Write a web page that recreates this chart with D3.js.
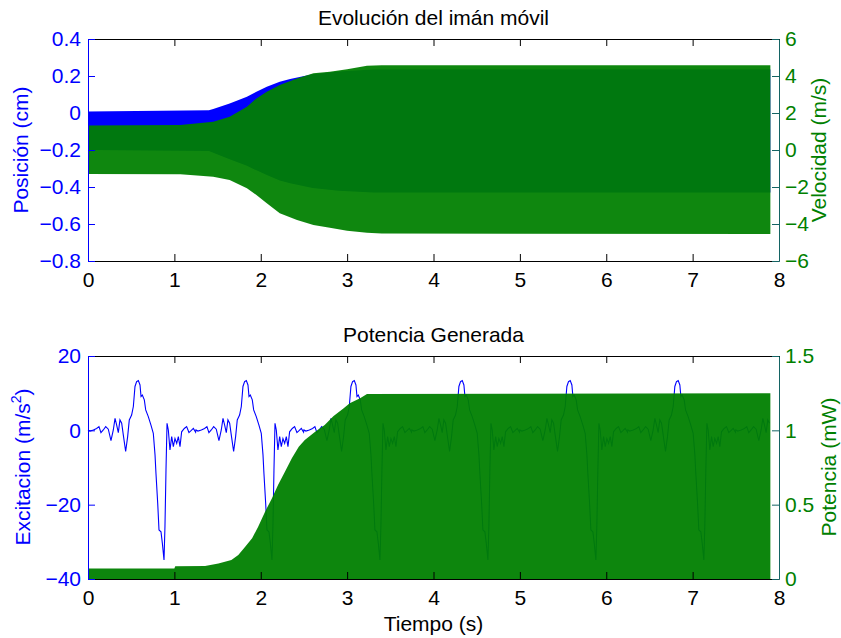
<!DOCTYPE html>
<html>
<head>
<meta charset="utf-8">
<script src="https://cdn.jsdelivr.net/npm/d3@7"></script>
<style>
  html, body { margin: 0; padding: 0; background: #fff; }
  svg text { font-family: "Liberation Sans", Arial, Helvetica, sans-serif; }
</style>
</head>
<body>
<svg id="chart" width="841" height="638"></svg>
<script>
// ---------------- DATA ----------------
const xTicks = [0, 1, 2, 3, 4, 5, 6, 7, 8];
const posTicks = [0.4, 0.2, 0, -0.2, -0.4, -0.6, -0.8];
const velTicks = [6, 4, 2, 0, -2, -4, -6];
const excTicks = [20, 0, -20, -40];
const powTicks = [1.5, 1, 0.5, 0];

// Top panel: envelope of the dense oscillation of position (cm)
const posT     = [0, 1.40, 1.45, 1.64, 1.84, 1.95, 2.07, 2.22, 2.34, 2.60, 2.90, 3.30, 7.90];
const posUpper = [0.008, 0.015, 0.022, 0.052, 0.088, 0.115, 0.142, 0.169, 0.184, 0.210, 0.225, 0.235, 0.235];
const posLower = [-0.200, -0.205, -0.215, -0.250, -0.285, -0.310, -0.335, -0.365, -0.380, -0.405, -0.420, -0.430, -0.430];

// Top panel: envelope of the dense oscillation of velocity (m/s)
const velT     = [0, 1.07, 1.45, 1.64, 1.84, 1.95, 2.07, 2.22, 2.42, 2.61, 2.80, 3.00, 3.23, 3.40, 7.90];
const velUpper = [1.33, 1.35, 1.53, 1.80, 2.34, 2.79, 3.15, 3.51, 3.87, 4.15, 4.23, 4.36, 4.55, 4.58, 4.58];
const velLower = [-1.30, -1.31, -1.44, -1.62, -2.07, -2.43, -2.88, -3.42, -3.78, -4.05, -4.20, -4.36, -4.47, -4.52, -4.54];

// Bottom panel: excitation (m/s^2), one measured cycle and the cycle start times
const excT = [0, 0.023, 0.062, 0.100, 0.127, 0.150, 0.177, 0.205, 0.235, 0.266, 0.293, 0.313, 0.332, 0.351,
              0.370, 0.390, 0.409, 0.436, 0.459, 0.478, 0.505, 0.525, 0.544, 0.563, 0.583, 0.602, 0.614, 0.629,
              0.652, 0.668, 0.698, 0.729, 0.756, 0.776, 0.787, 0.807, 0.822, 0.845, 0.861, 0.880, 0.891, 0.903,
              0.915, 0.930, 0.949, 0.969, 0.988, 1.007, 1.027, 1.046, 1.065, 1.084, 1.115, 1.142, 1.169, 1.193,
              1.220, 1.246];
const excV = [0.1, -0.2, 0.1, 0.5, 1.0, -0.6, 0.1, 1.0, 0.3, -2.8, 0.1, 3.2, 1.4, -0.6,
              2.8, 1.9, -1.3, -5.7, -1.7, 2.8, 4.1, 6.4, 11.8, 13.1, 13.4, 12.2, 9.1, 9.5,
              8.2, 5.5, 3.7, 1.4, -0.8, -6.6, -11.6, -19.6, -26.8, -27.3, -30.4, -34.9, -25.9, -10.7,
              1.9, 0.1, -5.3, -1.7, -4.4, -2.2, -3.5, -1.7, -4.4, -0.4, 0.5, 1.0, -0.6, -0.1,
              0.5, -0.5];
const cycleStarts = [0, 1.25, 2.5, 3.75, 5.0, 6.25, 7.5];
const tEnd = 7.90;

// Bottom panel: envelope of the dense oscillation of power (mW)
const powT     = [0, 1.00, 1.01, 1.355, 1.51, 1.66, 1.74, 1.82, 1.90, 1.97, 2.05, 2.13, 2.20, 2.28, 2.36,
                  2.44, 2.51, 2.63, 2.74, 2.84, 2.96, 3.03, 3.15, 3.23, 7.90];
const powUpper = [0.070, 0.070, 0.085, 0.087, 0.105, 0.128, 0.161, 0.217, 0.274, 0.352, 0.453, 0.543, 0.632, 0.722, 0.812,
                  0.890, 0.935, 0.991, 1.036, 1.095, 1.148, 1.182, 1.215, 1.245, 1.250];

// ---------------- LAYOUT ----------------
const L = 88, R = 779;
const top1 = 39, bot1 = 261;
const top2 = 356, bot2 = 579;
const BLUE = "#0000ff", GREEN = "#008000", TEAL = "#146464";
const FS = 21;

const svg = d3.select("#chart");

const x = d3.scaleLinear().domain([0, 8]).range([L, R]);
const yPos = d3.scaleLinear().domain([-0.8, 0.4]).range([bot1, top1]);
const yVel = d3.scaleLinear().domain([-6, 6]).range([bot1, top1]);
const yExc = d3.scaleLinear().domain([-40, 20]).range([bot2, top2]);
const yPow = d3.scaleLinear().domain([0, 1.5]).range([bot2, top2]);

const fmt = d => d3.format("~g")(d);

// ---------------- TOP PANEL DATA ----------------
const posData = posT.map((t, i) => ({ t, hi: posUpper[i], lo: posLower[i] }));
const velData = velT.map((t, i) => ({ t, hi: velUpper[i], lo: velLower[i] }));

svg.append("path")
  .datum(posData)
  .attr("fill", BLUE)
  .attr("d", d3.area().x(d => x(d.t)).y0(d => yPos(d.lo)).y1(d => yPos(d.hi)));

svg.append("path")
  .datum(velData)
  .attr("fill", GREEN)
  .attr("fill-opacity", 0.94)
  .attr("d", d3.area().x(d => x(d.t)).y0(d => yVel(d.lo)).y1(d => yVel(d.hi)));

// ---------------- BOTTOM PANEL DATA ----------------
const excData = [];
cycleStarts.forEach(s => {
  excT.forEach((t, i) => {
    if (s + t <= tEnd) excData.push({ t: s + t, v: excV[i] });
  });
});

svg.append("path")
  .datum(excData)
  .attr("fill", "none")
  .attr("stroke", BLUE)
  .attr("stroke-width", 1.1)
  .attr("d", d3.line().x(d => x(d.t)).y(d => yExc(d.v)));

const powData = powT.map((t, i) => ({ t, hi: powUpper[i] }));
svg.append("path")
  .datum(powData)
  .attr("fill", GREEN)
  .attr("fill-opacity", 0.95)
  .attr("d", d3.area().x(d => x(d.t)).y0(() => yPow(0)).y1(d => yPow(d.hi)));

// ---------------- AXES ----------------
function panelAxes(top, bot, yl, yr, lTicks, rTicks) {
  const gb = svg.append("g").attr("transform", `translate(0,${bot})`)
    .call(d3.axisBottom(x).tickValues(xTicks).tickFormat(fmt).tickSizeInner(-7).tickSizeOuter(0).tickPadding(11));
  gb.select(".domain").attr("stroke", "#000");
  gb.selectAll(".tick line").attr("stroke", "#000");
  gb.selectAll(".tick text").attr("fill", "#000").attr("font-size", FS);
  const gt = svg.append("g").attr("transform", `translate(0,${top})`)
    .call(d3.axisTop(x).tickValues(xTicks).tickFormat("").tickSizeInner(-7).tickSizeOuter(0));
  gt.select(".domain").attr("stroke", "#000");
  gt.selectAll(".tick line").attr("stroke", "#000");
  const gl = svg.append("g").attr("transform", `translate(${L},0)`)
    .call(d3.axisLeft(yl).tickValues(lTicks).tickFormat(fmt).tickSizeInner(-7).tickSizeOuter(0).tickPadding(7));
  gl.select(".domain").attr("stroke", BLUE);
  gl.selectAll(".tick line").attr("stroke", BLUE);
  gl.selectAll(".tick text").attr("fill", BLUE).attr("font-size", FS);
  const gr = svg.append("g").attr("transform", `translate(${R},0)`)
    .call(d3.axisRight(yr).tickValues(rTicks).tickFormat(fmt).tickSizeInner(-7).tickSizeOuter(0).tickPadding(6));
  gr.select(".domain").attr("stroke", TEAL);
  gr.selectAll(".tick line").attr("stroke", TEAL);
  gr.selectAll(".tick text").attr("fill", GREEN).attr("font-size", FS);
}
panelAxes(top1, bot1, yPos, yVel, posTicks, velTicks);
panelAxes(top2, bot2, yExc, yPow, excTicks, powTicks);

// ---------------- TEXT ----------------
const cx = (L + R) / 2;
svg.append("text").attr("x", cx).attr("y", 25).attr("text-anchor", "middle")
  .attr("font-size", FS).attr("fill", "#000").text("Evolución del imán móvil");
svg.append("text").attr("x", cx).attr("y", 342).attr("text-anchor", "middle")
  .attr("font-size", FS).attr("fill", "#000").text("Potencia Generada");
svg.append("text").attr("x", cx).attr("y", 631).attr("text-anchor", "middle")
  .attr("font-size", FS).attr("fill", "#000").text("Tiempo (s)");

svg.append("text").attr("transform", `translate(28,150) rotate(-90)`).attr("text-anchor", "middle")
  .attr("font-size", FS).attr("fill", BLUE).text("Posición (cm)");
svg.append("text").attr("transform", `translate(826,150) rotate(-90)`).attr("text-anchor", "middle")
  .attr("font-size", FS).attr("fill", GREEN).text("Velocidad (m/s)");

const ex = svg.append("text").attr("transform", `translate(30,467) rotate(-90)`).attr("text-anchor", "middle")
  .attr("font-size", FS).attr("fill", BLUE);
ex.append("tspan").text("Excitacion (m/s");
ex.append("tspan").attr("font-size", 14).attr("dy", -9).text("2");
ex.append("tspan").attr("dy", 9).text(")");

svg.append("text").attr("transform", `translate(836,467) rotate(-90)`).attr("text-anchor", "middle")
  .attr("font-size", FS).attr("fill", GREEN).text("Potencia (mW)");
</script>
</body>
</html>
